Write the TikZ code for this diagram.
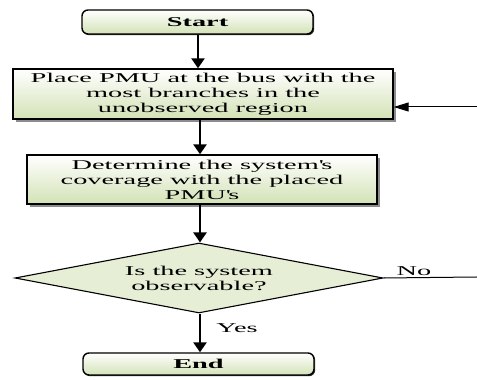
\documentclass[tikz,border=0pt]{standalone}
\usepackage{fontspec}
\setmainfont{Liberation Serif}[FakeStretch=2.1]
\usetikzlibrary{shapes.geometric,shadows,arrows.meta,calc}
\definecolor{boxgreen}{HTML}{D3E2B6}
\definecolor{diagreen}{HTML}{E6EED5}
\tikzset{
  txt/.style={font=\fontsize{13.5}{15}\selectfont, align=center, inner sep=0pt},
  termbox/.style={txt, draw=black, line width=1.4pt, rounded corners=6pt,
    top color=white, bottom color=boxgreen,
    drop shadow={shadow xshift=1.2pt, shadow yshift=-1.2pt, fill=black!80, opacity=1}},
  procbox/.style={txt, draw=black, line width=1.4pt,
    top color=white, bottom color=boxgreen,
    drop shadow={shadow xshift=3pt, shadow yshift=-3pt, fill=black!45, opacity=1}},
  decbox/.style={txt, draw=black, line width=1.1pt, diamond, aspect=5.26,
    fill=diagreen},
  flow/.style={line width=2.8pt, -{Triangle[width=13pt,length=10pt]}},
  thinflow/.style={line width=1pt, -{Triangle[width=9pt,length=15pt]}},
  thinline/.style={line width=1pt},
  lbl/.style={font=\fontsize{13.5}{15}\selectfont, inner sep=0pt}
}
\begin{document}
\begin{tikzpicture}[x=1pt,y=1pt]
\useasboundingbox (0,0) rectangle (477,380);
\node[termbox, minimum width=231pt, minimum height=24pt] (start) at (197.5,358) {\textbf{Start}};
\node[procbox, minimum width=380pt, minimum height=50pt] (place) at (203,286)
  {Place PMU at the bus with the\\most branches in the\\unobserved region};
\node[procbox, minimum width=350pt, minimum height=49pt] (cover) at (202,200.5)
  {Determine the system\textquotesingle s\\coverage with the placed\\PMU\textquotesingle s};
\node[decbox, minimum width=368pt, minimum height=70pt] (obs) at (199,102)
  {Is the system\\observable?};
\node[termbox, minimum width=231pt, minimum height=22pt] (end) at (198.5,16) {\textbf{End}};
\node[lbl] (no) at (414,109) {No};
\node[lbl] (yes) at (237,52) {Yes};
\coordinate (noend) at (477,103);
\coordinate (fbstart) at (477,273);
\draw[flow] (start.south -| 198,0) -- (198,0 |- place.north);
\draw[flow] (200,0 |- place.south) -- (200,0 |- cover.north);
\draw[flow] (200,0 |- cover.south) -- (obs.north -| 200,0);
\draw[flow] (obs.south -| 200,0) -- (200,0 |- end.north);
\draw[thinline] (obs.east) -- (noend);
\draw[thinflow] (fbstart) -- (fbstart -| place.east);
\end{tikzpicture}
\end{document}
